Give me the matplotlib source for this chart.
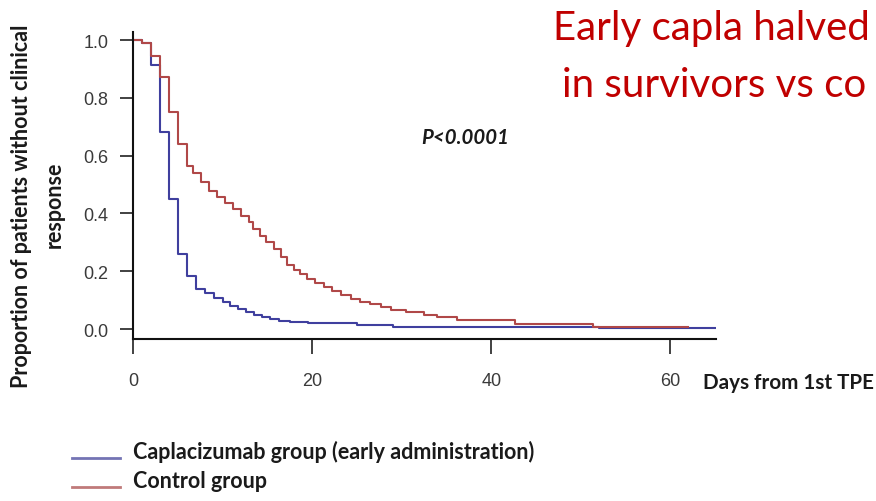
import matplotlib
matplotlib.use("Agg")
import matplotlib.pyplot as plt

# ---- data ----
capla_days = [0, 1, 2, 3, 4, 5, 6, 7, 8, 9, 10, 10.8, 11.7, 12.6, 13.5, 14.4, 15.3,
              16.3, 17.5, 19.5, 25, 29, 52, 65]
capla_prop = [1.0, 0.99, 0.914, 0.683, 0.45, 0.26, 0.184, 0.138, 0.125, 0.108, 0.095,
              0.08, 0.07, 0.058, 0.05, 0.042, 0.035, 0.029, 0.025, 0.021, 0.014, 0.007,
              0.004, 0.004]

control_days = [0, 1, 2, 3, 4, 5, 6, 6.7, 7.6, 8.5, 9.4, 10.3, 11.2, 12.1, 12.9, 13.4,
                14.2, 14.9, 15.7, 16.5, 17.2, 18.0, 18.7, 19.4, 20.3, 21.3, 22.2, 23.2,
                24.3, 25.4, 26.5, 27.7, 28.8, 30.5, 32.5, 34, 36.2, 42.6, 51.4, 62]
control_prop = [1.0, 0.99, 0.945, 0.871, 0.75, 0.64, 0.565, 0.54, 0.507, 0.478, 0.456,
                0.436, 0.415, 0.392, 0.369, 0.346, 0.322, 0.30, 0.277, 0.25, 0.222,
                0.205, 0.19, 0.172, 0.16, 0.145, 0.132, 0.118, 0.105, 0.095, 0.085,
                0.075, 0.066, 0.058, 0.05, 0.043, 0.03, 0.018, 0.006, 0.006]

x_ticks = [0, 20, 40, 60]
y_ticks = [0.0, 0.2, 0.4, 0.6, 0.8, 1.0]
y_tick_labels = ["0.0", "0.2", "0.4", "0.6", "0.8", "1.0"]

series_labels = ["Caplacizumab group (early administration)", "Control group"]
title_lines = ["Early capla halved", "in survivors vs co"]

BLUE = "#3f3f9e"
RED = "#b04848"

W, H = 876, 502
fig = plt.figure(figsize=(W / 100, H / 100), dpi=100)
fig.patch.set_facecolor("white")

# axes placed in pixel coordinates
left, right, top, bottom = 133, 716, 33, 340
ax = fig.add_axes([left / W, 1 - bottom / H, (right - left) / W, (bottom - top) / H])

ax.step(capla_days, capla_prop, where="post", color=BLUE, lw=1.5)
ax.step(control_days, control_prop, where="post", color=RED, lw=1.5)

ax.set_xlim(0, 65.1)
ax.set_ylim(-0.0346, 1.0277)

for s in ["top", "right"]:
    ax.spines[s].set_visible(False)
for s in ["left", "bottom"]:
    ax.spines[s].set_linewidth(1.5)
    ax.spines[s].set_color("#111111")

ax.set_xticks(x_ticks)
ax.set_xticklabels([str(v) for v in x_ticks])
ax.set_yticks(y_ticks)
ax.set_yticklabels(y_tick_labels)
ax.tick_params(axis="x", length=10.5, width=1.3, pad=13, colors="#333333",
               labelsize=13)
ax.tick_params(axis="y", length=9.5, width=1.3, pad=8, colors="#333333",
               labelsize=13)
for lab in ax.get_xticklabels() + ax.get_yticklabels():
    lab.set_family("Liberation Sans")
    lab.set_color("#3a3a3a")

# y label (two lines)
fig.text(22 / W, 1 - 206 / H, "Proportion of patients without clinical",
         rotation=90, ha="center", va="center", fontsize=15.5, fontweight="bold",
         family="Lato", color="#1a1a1a")
fig.text(54 / W, 1 - 205 / H, "response", rotation=90, ha="center", va="center",
         fontsize=15.5, fontweight="bold", family="Lato", color="#1a1a1a")

# x label
fig.text(703 / W, 1 - 383 / H, "Days from 1st TPE", ha="left", va="center",
         fontsize=14.9, fontweight="bold", family="Lato", color="#1a1a1a")

# p-value
fig.text(465 / W, 1 - 138 / H, "P<0.0001", ha="center", va="center",
         fontsize=14.7, fontweight="bold", fontstyle="italic", family="Lato",
         color="#1a1a1a")

# legend
fig.add_artist(plt.Line2D([72 / W, 120 / W], [1 - 459 / H, 1 - 459 / H],
                          color="#7474b4", lw=2))
fig.add_artist(plt.Line2D([72 / W, 120 / W], [1 - 488 / H, 1 - 488 / H],
                          color="#c07a7a", lw=2))
fig.text(133 / W, 1 - 452 / H, series_labels[0], ha="left", va="center",
         fontsize=15.5, fontweight="bold", family="Lato", color="#1a1a1a")
fig.text(133 / W, 1 - 482 / H, series_labels[1], ha="left", va="center",
         fontsize=15.5, fontweight="bold", family="Lato", color="#1a1a1a")

# title (red), sized so it stays inside the figure
fig.text(553 / W, 1 - 40 / H, title_lines[0], ha="left", va="baseline",
         fontsize=29, family="Lato", color="#c00000")
fig.text(562 / W, 1 - 97 / H, title_lines[1], ha="left", va="baseline",
         fontsize=29, family="Lato", color="#c00000")

fig.savefig("out.png", dpi=100)
